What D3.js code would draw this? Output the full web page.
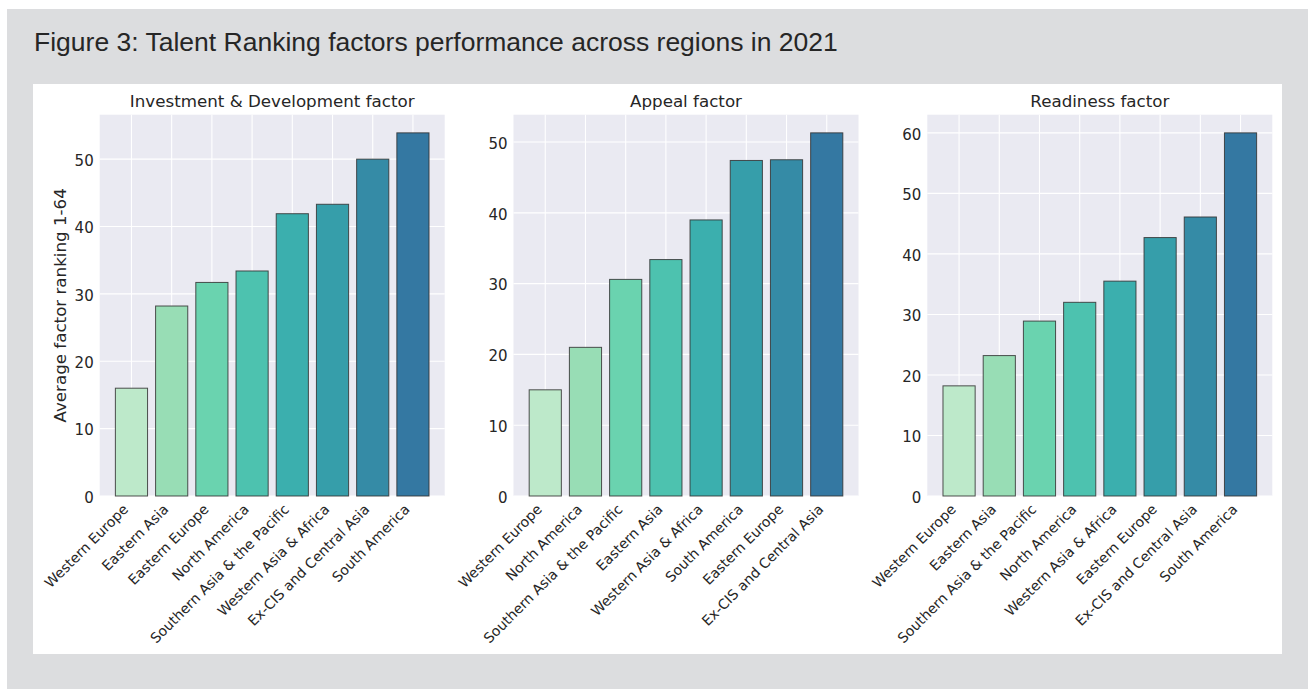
<!DOCTYPE html>
<html>
<head>
<meta charset="utf-8">
<script src="https://cdn.jsdelivr.net/npm/d3@7"></script>
<style>
  html, body { margin: 0; padding: 0; background: #ffffff; }
  svg { display: block; }
</style>
</head>
<body>
<svg id="chart" width="1308" height="689"></svg>
<script>
// ---- Data ----
const figureTitle = "Figure 3: Talent Ranking factors performance across regions in 2021";
const yAxisLabel = "Average factor ranking 1-64";

const investTitle = "Investment & Development factor";
const investCats = ["Western Europe", "Eastern Asia", "Eastern Europe", "North America", "Southern Asia & the Pacific", "Western Asia & Africa", "Ex-CIS and Central Asia", "South America"];
const investVals = [16.0, 28.2, 31.7, 33.4, 41.9, 43.3, 50.0, 53.9];
const investTicks = [0, 10, 20, 30, 40, 50];

const appealTitle = "Appeal factor";
const appealCats = ["Western Europe", "North America", "Southern Asia & the Pacific", "Eastern Asia", "Western Asia & Africa", "South America", "Eastern Europe", "Ex-CIS and Central Asia"];
const appealVals = [15.0, 21.0, 30.6, 33.4, 39.0, 47.4, 47.5, 51.3];
const appealTicks = [0, 10, 20, 30, 40, 50];

const readyTitle = "Readiness factor";
const readyCats = ["Western Europe", "Eastern Asia", "Southern Asia & the Pacific", "North America", "Western Asia & Africa", "Eastern Europe", "Ex-CIS and Central Asia", "South America"];
const readyVals = [18.2, 23.2, 28.9, 32.0, 35.5, 42.7, 46.1, 60.0];
const readyTicks = [0, 10, 20, 30, 40, 50, 60];

const barColors = ["#bde9ca", "#98ddb5", "#6ad3af", "#4dc2af", "#3bafae", "#369eaa", "#358ba6", "#3478a2"];

// ---- Layout ----
const svg = d3.select("#chart");
const TXT = "#262626";
const FONT = "'DejaVu Sans', sans-serif";

svg.append("rect").attr("x", 7).attr("y", 9).attr("width", 1301).attr("height", 680).attr("fill", "#dcdddf");
svg.append("rect").attr("x", 33).attr("y", 84).attr("width", 1249).attr("height", 570).attr("fill", "#ffffff");

svg.append("text")
  .attr("x", 34).attr("y", 50.5)
  .attr("font-family", "'Liberation Sans', Arial, sans-serif")
  .attr("font-size", 26.5)
  .attr("fill", "#262626")
  .text(figureTitle);

const plotTop = 114.7, plotBottom = 496, plotW = 345;
const panels = [
  { left: 99.7, title: investTitle, cats: investCats, vals: investVals, ticks: investTicks, ylabel: true },
  { left: 513.5, title: appealTitle, cats: appealCats, vals: appealVals, ticks: appealTicks, ylabel: false },
  { left: 927.3, title: readyTitle, cats: readyCats, vals: readyVals, ticks: readyTicks, ylabel: false }
];

panels.forEach(p => {
  const g = svg.append("g");
  const x = d3.scaleBand()
    .domain(p.cats)
    .range([p.left, p.left + plotW])
    .paddingInner(0.2)
    .paddingOuter(0.39);
  const y = d3.scaleLinear()
    .domain([0, d3.max(p.vals) * 1.05])
    .range([plotBottom, plotTop]);

  // plot background
  g.append("rect")
    .attr("x", p.left).attr("y", plotTop)
    .attr("width", plotW).attr("height", plotBottom - plotTop)
    .attr("fill", "#eaeaf2");

  // grid
  g.selectAll(".hg").data(p.ticks).enter().append("line")
    .attr("x1", p.left).attr("x2", p.left + plotW)
    .attr("y1", d => y(d)).attr("y2", d => y(d))
    .attr("stroke", "#ffffff").attr("stroke-width", 1.1);
  g.selectAll(".vg").data(p.cats).enter().append("line")
    .attr("x1", d => x(d) + x.bandwidth() / 2).attr("x2", d => x(d) + x.bandwidth() / 2)
    .attr("y1", plotTop).attr("y2", plotBottom)
    .attr("stroke", "#ffffff").attr("stroke-width", 1.1);

  // bars
  g.selectAll(".bar").data(p.vals).enter().append("rect")
    .attr("x", (d, i) => x(p.cats[i]))
    .attr("y", d => y(d))
    .attr("width", x.bandwidth())
    .attr("height", d => y(0) - y(d))
    .attr("fill", (d, i) => barColors[i])
    .attr("stroke", "#333333")
    .attr("stroke-opacity", 0.85)
    .attr("stroke-width", 1);

  // y axis
  const yAxis = d3.axisLeft(y).tickValues(p.ticks).tickSize(0).tickPadding(6).tickFormat(d3.format("d"));
  const ya = g.append("g").attr("transform", `translate(${p.left},0)`).call(yAxis);
  ya.select(".domain").remove();
  ya.selectAll("text")
    .attr("font-family", FONT).attr("font-size", 15).attr("fill", TXT)
    .attr("dy", "0.42em");

  // x axis
  const xAxis = d3.axisBottom(x).tickSize(0).tickPadding(0);
  const xa = g.append("g").attr("transform", `translate(0,${plotBottom})`).call(xAxis);
  xa.select(".domain").remove();
  xa.selectAll("text")
    .attr("font-family", FONT).attr("font-size", 14).attr("fill", TXT)
    .attr("text-anchor", "end")
    .attr("dy", null)
    .attr("y", null)
    .attr("transform", "translate(-2.3,14.2) rotate(-45)");

  // title
  g.append("text")
    .attr("x", p.left + plotW / 2).attr("y", 107.3)
    .attr("text-anchor", "middle")
    .attr("font-family", FONT).attr("font-size", 16.7).attr("fill", TXT)
    .text(p.title);

  if (p.ylabel) {
    g.append("text")
      .attr("transform", `translate(65.5,${(plotTop + plotBottom) / 2}) rotate(-90)`)
      .attr("text-anchor", "middle")
      .attr("font-family", FONT).attr("font-size", 16.7).attr("fill", TXT)
      .text(yAxisLabel);
  }
});
</script>
</body>
</html>
